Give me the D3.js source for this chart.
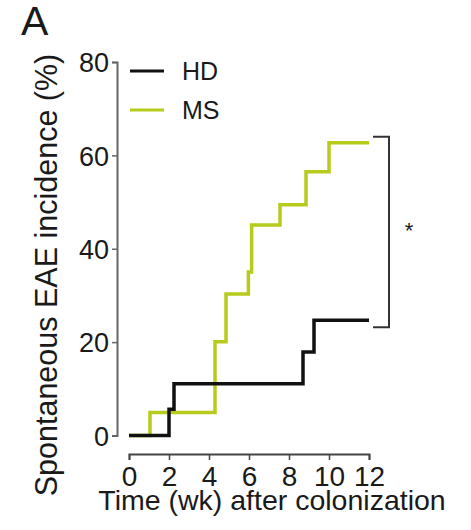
<!DOCTYPE html>
<meta charset="utf-8">
<style>
body { margin: 0; background: #fff; }
text { font-family: "Liberation Sans", Arial, sans-serif; fill: #1a1a1a; }
</style>
<svg width="471" height="530"></svg>
<script src="https://d3js.org/d3.v7.min.js"></script>
<script>

// step curves (week, % incidence)
var hdWeeks = [0, 2.0, 2.25, 8.7, 9.25, 12];
var hdValues = [0, 5.6, 11.1, 17.9, 24.7, 24.7];
var msWeeks = [0, 1.05, 4.3, 4.85, 5.97, 6.13, 7.55, 8.85, 10.0, 12];
var msValues = [0, 4.9, 20.1, 30.3, 35.0, 45.1, 49.4, 56.5, 62.7, 62.7];
var xTicks = [0, 2, 4, 6, 8, 10, 12];
var yTicks = [0, 20, 40, 60, 80];
var groups = ["HD", "MS"];

var svg = d3.select("svg");
var color = d3.scaleOrdinal().domain(groups).range(["#111111", "#b7cb1c"]);

var x = d3.scaleLinear().domain([0, 12]).range([129, 369]);
var y = d3.scaleLinear().domain([0, 80]).range([435.5, 62]);

// y axis
var yAxis = svg.append("g")
    .attr("transform", "translate(117,0)")
    .call(d3.axisLeft(y).tickValues(yTicks).tickSize(5).tickPadding(3));
yAxis.select(".domain").attr("stroke", "#666").attr("stroke-width", 2);
yAxis.selectAll(".tick line").attr("stroke", "#666").attr("stroke-width", 1.5);
yAxis.selectAll(".tick text")
    .attr("font-size", 27).attr("font-family", null).attr("fill", "#1a1a1a")
    .attr("dy", "0.36em");

// x axis
var xAxis = svg.append("g")
    .attr("transform", "translate(0,454)")
    .call(d3.axisBottom(x).tickValues(xTicks).tickSize(6).tickPadding(6));
xAxis.select(".domain").attr("stroke", "#444").attr("stroke-width", 2);
xAxis.selectAll(".tick line").attr("stroke", "#444").attr("stroke-width", 1.5);
xAxis.selectAll(".tick text")
    .attr("font-size", 28).attr("font-family", null).attr("fill", "#1a1a1a");

// axis titles
svg.append("text")
    .attr("x", 272).attr("y", 510)
    .attr("text-anchor", "middle")
    .attr("font-size", 28.5)
    .text("Time (wk) after colonization");

svg.append("text")
    .attr("transform", "translate(57,275) rotate(-90)")
    .attr("text-anchor", "middle")
    .attr("font-size", 30.5)
    .text("Spontaneous EAE incidence (%)");

// panel letter
svg.append("text")
    .attr("x", 21).attr("y", 35)
    .attr("font-size", 41)
    .text("A");

// step lines
var line = d3.line()
    .x(function(d) { return x(d[0]); })
    .y(function(d) { return y(d[1]); })
    .curve(d3.curveStepAfter);

var series = [
  { name: "MS", pts: d3.zip(msWeeks, msValues) },
  { name: "HD", pts: d3.zip(hdWeeks, hdValues) }
];

svg.append("g").selectAll("path")
    .data(series)
  .enter().append("path")
    .attr("fill", "none")
    .attr("stroke", function(d) { return color(d.name); })
    .attr("stroke-width", 3.5)
    .attr("d", function(d) { return line(d.pts); });

// legend
var legend = svg.append("g").selectAll("g")
    .data(groups)
  .enter().append("g")
    .attr("transform", function(d, i) { return "translate(0," + (71 + i * 39) + ")"; });

legend.append("line")
    .attr("x1", 130).attr("x2", 164)
    .attr("stroke", function(d) { return color(d); })
    .attr("stroke-width", 3);

legend.append("text")
    .attr("x", 182).attr("y", 0)
    .attr("dy", "0.36em")
    .attr("font-size", 25)
    .text(function(d) { return d; });

// significance bracket
var bx = x(12) + 4, bx2 = x(12) + 20;
var bTop = y(62.7) - 6, bBot = y(24.7) + 7;
svg.append("path")
    .attr("fill", "none")
    .attr("stroke", "#333")
    .attr("stroke-width", 2)
    .attr("d", "M" + bx + "," + bTop + "H" + bx2 + "V" + bBot + "H" + bx);

svg.append("text")
    .attr("x", 409).attr("y", 238)
    .attr("text-anchor", "middle")
    .attr("font-size", 22)
    .text("*");

</script>
